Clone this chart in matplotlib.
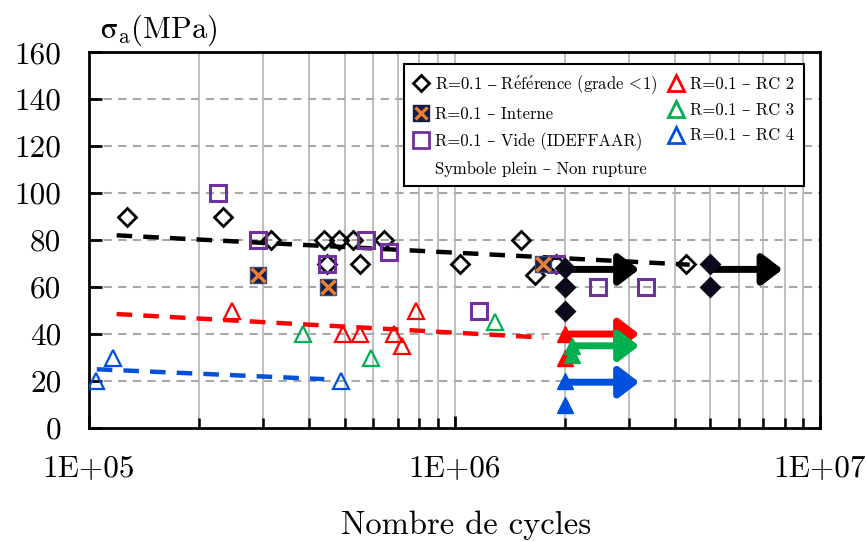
import math
import matplotlib
matplotlib.use('Agg')
import matplotlib.pyplot as plt
from matplotlib.lines import Line2D
from matplotlib.legend_handler import HandlerTuple
from matplotlib.ticker import FixedLocator, FuncFormatter, LogLocator, NullFormatter

plt.rcParams['font.family'] = ['cmr10', 'DejaVu Serif']
plt.rcParams['mathtext.fontset'] = 'cm'
plt.rcParams['axes.unicode_minus'] = False

# Référence (grade <1) - ruptures
ref_n = [1.27e5, 2.33e5, 3.15e5, 4.39e5, 4.83e5, 5.27e5, 6.41e5, 4.48e5, 5.51e5,
         1.035e6, 1.52e6, 1.66e6, 1.9e6, 4.3e6]
ref_s = [90, 90, 80, 80, 80, 80, 80, 70, 70, 70, 80, 65, 70, 70]
# Référence - non rupture
ref_nr_n = [2.0e6, 2.0e6, 2.0e6, 5.0e6, 5.0e6]
ref_nr_s = [68, 60, 50, 70, 60]

# Interne
int_n = [2.9e5, 4.5e5, 1.75e6]
int_s = [65, 60, 70]

# Vide (IDEFFAAR)
vide_n = [2.25e5, 2.9e5, 4.48e5, 5.73e5, 6.62e5, 1.17e6, 1.9e6, 2.47e6, 3.34e6]
vide_s = [100, 80, 70, 80, 75, 50, 70, 60, 60]

# RC 2 / RC 3 / RC 4
rc2_n = [2.46e5, 4.95e5, 5.51e5, 6.82e5, 7.18e5, 7.85e5]
rc2_s = [50, 40, 40, 40, 35, 50]
rc2_nr_n = [2.0e6, 2.0e6]
rc2_nr_s = [40, 30]

rc3_n = [3.85e5, 5.91e5, 1.29e6]
rc3_s = [40, 30, 45]
rc3_nr_n = [2.09e6, 2.09e6]
rc3_nr_s = [35, 31]

rc4_n = [1.045e5, 1.16e5, 4.89e5]
rc4_s = [20, 30, 20]
rc4_nr_n = [2.0e6, 2.0e6]
rc4_nr_s = [20, 10]

# tendances
trend_ref_n = [1.19e5, 4.4e6]
trend_ref_s = [82, 69.5]
trend_rc2_n = [1.19e5, 1.75e6]
trend_rc2_s = [48.5, 38.5]
trend_rc4_n = [1.05e5, 4.4e5]
trend_rc4_s = [25, 20.8]

# flèches (essais arrêtés) : (départ, fin, contrainte, couleur)
arrows = [
    (2.0e6, 3.2e6, 67.5, 'black'),
    (5.0e6, 7.9e6, 67.5, 'black'),
    (2.0e6, 3.2e6, 40, '#ff0000'),
    (2.1e6, 3.2e6, 35, '#00b050'),
    (2.0e6, 3.2e6, 19.5, '#0050dd'),
]

c_red = '#ff0000'
c_green = '#00b050'
c_blue = '#0050dd'
c_purple = '#7030a0'
c_navy = '#0f1f4a'
c_orange = '#ed7d31'

fig = plt.figure(figsize=(8.67, 5.42), dpi=100)
ax = fig.add_axes([0.1027, 0.2103, 0.8431, 0.6937])

ax.set_xscale('log')
ax.set_xlim(1e5, 1e7)
ax.set_ylim(0, 160)

# grille
for y in range(20, 160, 20):
    ax.axhline(y, color='#a8a8a8', lw=1.5, ls=(0, (4, 3)), zorder=0)
for dec in [1e5, 1e6]:
    for k in range(1, 10):
        if dec * k > 1e5:
            ax.axvline(dec * k, color='#b4b4b4', lw=1.2, zorder=0)

# tendances
ax.plot(trend_ref_n, trend_ref_s, color='black', lw=3.2, ls=(0, (3.5, 2.5)), zorder=2)
ax.plot(trend_rc2_n, trend_rc2_s, color=c_red, lw=3.2, ls=(0, (3.5, 2.5)), zorder=2)
ax.plot(trend_rc4_n, trend_rc4_s, color=c_blue, lw=3.2, ls=(0, (3.5, 2.5)), zorder=2)

# flèches
for x0, x1, y, col in arrows:
    ax.annotate('', xy=(x1, y), xytext=(x0, y),
                arrowprops=dict(arrowstyle='-|>,head_length=0.55,head_width=0.42',
                                color=col, lw=5, mutation_scale=22,
                                shrinkA=0, shrinkB=0),
                zorder=3)

ms_d = 9
ms_s = 12
ms_t = 12

ax.plot(ref_n, ref_s, 'D', ms=ms_d, mfc='none', mec='black', mew=2, ls='none', zorder=4)
ax.plot(ref_nr_n, ref_nr_s, 'D', ms=ms_d, mfc='#0a0a1a', mec='#0a0a1a', mew=2, ls='none', zorder=5)

ax.plot(vide_n, vide_s, 's', ms=ms_s, mfc='none', mec=c_purple, mew=2.2, ls='none', zorder=4)

ax.plot(int_n, int_s, 's', ms=ms_s, mfc=c_navy, mec='#3a4a70', mew=1, ls='none', zorder=5)
ax.plot(int_n, int_s, 'x', ms=ms_s - 2, mec=c_orange, mew=2.5, ls='none', zorder=6)

ax.plot(rc2_n, rc2_s, '^', ms=ms_t, mfc='none', mec=c_red, mew=1.6, ls='none', zorder=4)
ax.plot(rc3_n, rc3_s, '^', ms=ms_t, mfc='none', mec=c_green, mew=1.6, ls='none', zorder=4)
ax.plot(rc4_n, rc4_s, '^', ms=ms_t, mfc='none', mec=c_blue, mew=1.6, ls='none', zorder=4)

ax.plot(rc2_nr_n, rc2_nr_s, '^', ms=ms_t, mfc=c_red, mec=c_red, ls='none', zorder=5)
ax.plot(rc3_nr_n, rc3_nr_s, '^', ms=ms_t, mfc=c_green, mec=c_green, ls='none', zorder=5)
ax.plot(rc4_nr_n, rc4_nr_s, '^', ms=ms_t, mfc=c_blue, mec=c_blue, ls='none', zorder=5)

# axes
for sp in ax.spines.values():
    sp.set_linewidth(2)
ax.yaxis.set_major_locator(FixedLocator(range(0, 161, 20)))
ax.xaxis.set_major_locator(FixedLocator([1e5, 1e6, 1e7]))
ax.xaxis.set_minor_locator(LogLocator(base=10, subs=range(2, 10)))
ax.xaxis.set_minor_formatter(NullFormatter())
ax.xaxis.set_major_formatter(FuncFormatter(lambda v, p: '1E+%02d' % round(math.log10(v))))
ax.tick_params(axis='both', which='major', direction='in', length=9, width=2, labelsize=22.5)
ax.tick_params(axis='x', which='minor', direction='in', length=7, width=1.8)
ax.tick_params(axis='x', which='major', pad=19)
ax.tick_params(axis='y', which='major', pad=20)
ax.tick_params(top=False, right=False)

fig.text(0.115, 0.944, r'$\mathrm{σ_{a}(MPa)}$', fontsize=22, ha='left', va='center')
fig.text(0.5375, 0.031, 'Nombre de cycles', fontsize=23.5, ha='center', va='center')

# légende
handles = [
    Line2D([], [], marker='D', ls='none', ms=8, mfc='none', mec='black', mew=2),
    (Line2D([], [], marker='s', ls='none', ms=11, mfc=c_navy, mec=c_navy),
     Line2D([], [], marker='x', ls='none', ms=9, mec=c_orange, mew=2.3)),
    Line2D([], [], marker='s', ls='none', ms=11, mfc='none', mec=c_purple, mew=2),
    Line2D([], [], ls='none'),
    Line2D([], [], marker='^', ls='none', ms=12, mfc='none', mec=c_red, mew=2),
    Line2D([], [], marker='^', ls='none', ms=12, mfc='none', mec=c_green, mew=2),
    Line2D([], [], marker='^', ls='none', ms=12, mfc='none', mec=c_blue, mew=2),
]
# le « < » et les accents de cette ligne passent par mathtext
labels = [
    r'R=0.1 $\mathrm{–}$ R$\mathrm{\acute{e}}$f$\mathrm{\acute{e}}$rence (grade $\!<\!$1)',
    'R=0.1 – Interne',
    'R=0.1 – Vide (IDEFFAAR)',
    'Symbole plein – Non rupture',
    'R=0.1 – RC 2',
    'R=0.1 – RC 3',
    'R=0.1 – RC 4',
]
leg = ax.legend(handles, labels, ncol=2, loc='upper right', bbox_to_anchor=(0.989, 0.99),
                fontsize=12, frameon=True, fancybox=False, framealpha=1,
                edgecolor='black', handlelength=1.0, handletextpad=0.35,
                columnspacing=0.6, labelspacing=0.62, borderpad=0.55,
                handler_map={tuple: HandlerTuple(ndivide=1, pad=0)})
leg.get_frame().set_linewidth(1.5)
leg.set_zorder(10)

fig.savefig('out.png', dpi=100)
